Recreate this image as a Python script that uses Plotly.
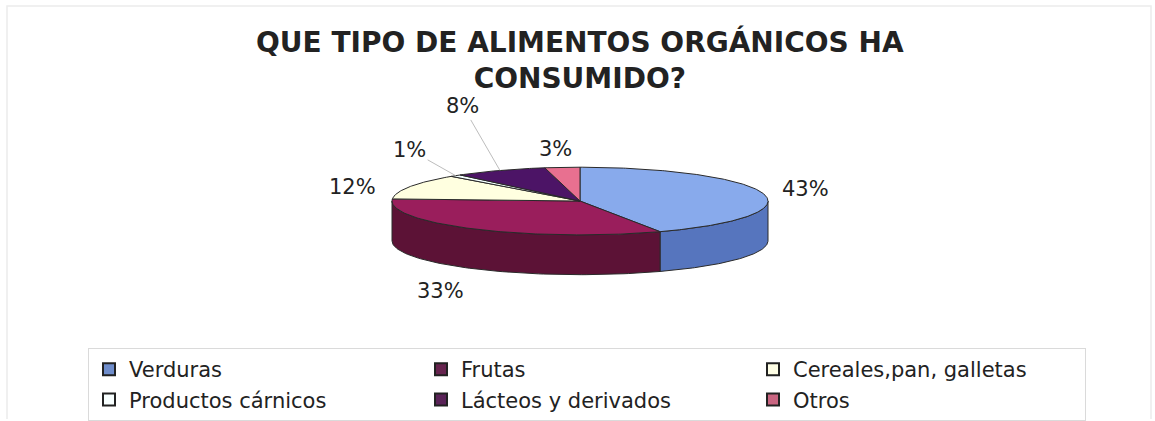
import numpy as np
import plotly.graph_objects as go

# ---- data ----
categories = ["Verduras", "Frutas", "Cereales,pan, galletas",
              "Productos cárnicos", "Lácteos y derivados", "Otros"]
percentages = [43, 33, 12, 1, 8, 3]

# ---- styling ----
top_colors = ["#88AAEC", "#9A1E5C", "#FFFFE0", "#F4FFFF", "#4C1466", "#E87090"]
side_colors = ["#5675BE", "#5C1236", "#CFCFA8", "#C4D0D0", "#300A42", "#B04C68"]
legend_colors = ["#6F8DCB", "#67244F", "#FFFFE6", "#F8FFFF", "#5A2358", "#C96581"]
label_shift = [(42, -5), (-34, 62), (-57, 0), (-46, -26), (-37, -64), (-7, -18)]
leader = [False, False, False, True, True, False]

W, H = 1155, 421
CX, CY, RX, RY, DEPTH = 580, 202, 188, 34, 40
EDGE = "#2A2A2A"


def rim(theta_deg, drop=0.0):
    t = np.radians(theta_deg)
    return CX + RX * np.sin(t), CY - RY * np.cos(t) + drop


# slice angles, clockwise from 12 o'clock
vals = np.array(percentages, dtype=float)
ends = np.cumsum(vals) / vals.sum() * 360.0
starts = np.concatenate([[0.0], ends[:-1]])

fig = go.Figure()

# visible rim (front half: 90°..270°)
for i in range(len(categories)):
    lo, hi = max(starts[i], 90.0), min(ends[i], 270.0)
    if lo >= hi:
        continue
    th = np.linspace(lo, hi, 80)
    xt, yt = rim(th)
    xb, yb = rim(th[::-1], DEPTH)
    fig.add_trace(go.Scatter(
        x=np.concatenate([xt, xb, xt[:1]]), y=np.concatenate([yt, yb, yt[:1]]),
        mode="lines", fill="toself", fillcolor=side_colors[i],
        line=dict(color=EDGE, width=1), hoverinfo="skip", showlegend=False))

# top faces
for i in range(len(categories)):
    th = np.linspace(starts[i], ends[i], max(int((ends[i] - starts[i]) * 1.5), 4))
    xa, ya = rim(th)
    fig.add_trace(go.Scatter(
        x=np.concatenate([[CX], xa, [CX]]), y=np.concatenate([[CY], ya, [CY]]),
        mode="lines", fill="toself", fillcolor=top_colors[i],
        line=dict(color=EDGE, width=1), name=categories[i],
        hovertemplate=f"{categories[i]}: {percentages[i]}%<extra></extra>",
        showlegend=False))

# legend entries
for i, cat in enumerate(categories):
    fig.add_trace(go.Scatter(
        x=[None], y=[None], mode="markers", name=cat,
        marker=dict(symbol="square", size=13, color=legend_colors[i],
                    line=dict(color="#222222", width=1))))

# percentage labels
for i in range(len(categories)):
    mid = (starts[i] + ends[i]) / 2.0
    ax_, ay_ = rim(mid)
    dx, dy = label_shift[i]
    fig.add_annotation(
        x=float(ax_), y=float(ay_), xref="x", yref="y",
        text=f"{percentages[i]}%", showarrow=True, ax=dx, ay=dy,
        arrowhead=0, arrowwidth=1,
        arrowcolor="#BDBDBD" if leader[i] else "rgba(0,0,0,0)",
        font=dict(family="DejaVu Sans", size=21, color="#222222"))

# faint chart-area frame
fig.add_shape(type="rect", xref="x", yref="y", x0=7, y0=6, x1=1151, y1=425,
              line=dict(color="#ECECEC", width=1.5), layer="below")

fig.update_layout(
    width=W, height=H,
    margin=dict(l=0, r=0, t=0, b=0),
    paper_bgcolor="white", plot_bgcolor="white",
    title=dict(text="QUE TIPO DE ALIMENTOS ORGÁNICOS HA<br>CONSUMIDO?",
               x=0.502, xanchor="center", y=1 - 52 / H, yanchor="middle",
               font=dict(family="DejaVu Sans", size=28, color="#222222",
                         weight="bold")),
    xaxis=dict(range=[0, W], visible=False, fixedrange=True),
    yaxis=dict(range=[H, 0], visible=False, fixedrange=True),
    legend=dict(orientation="h", x=88 / W, xanchor="left",
                y=1 - 350 / H, yanchor="top", entrywidth=287,
                font=dict(family="DejaVu Sans", size=21, color="#222222"),
                bordercolor="#DADADA", borderwidth=1, bgcolor="white",
                itemsizing="constant"),
    showlegend=True,
)

fig.write_html("out.html")
